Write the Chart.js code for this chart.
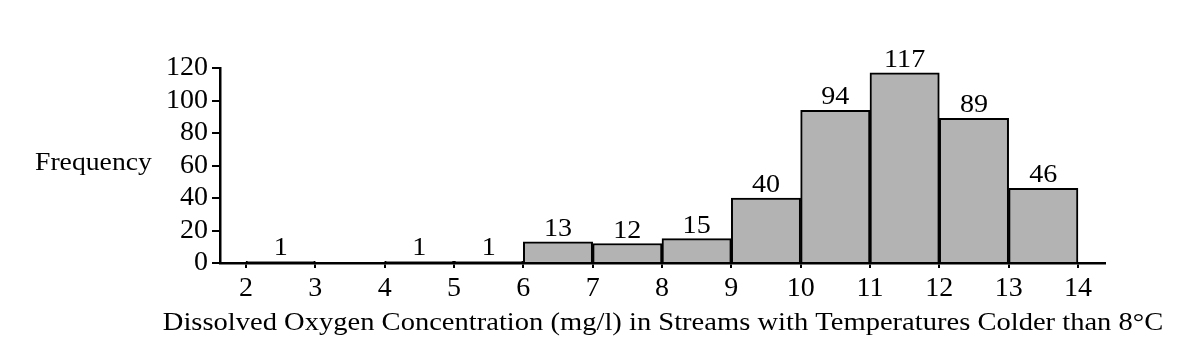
<!DOCTYPE html>
<html><head><meta charset="utf-8">
<script src="https://cdn.jsdelivr.net/npm/chart.js@4.4.0/dist/chart.umd.min.js"></script>
<style>html,body{margin:0;padding:0;background:#fff}#wrap{width:1200px;height:357px}</style>
</head><body><div id="wrap"><canvas id="c"></canvas></div>
<script>
const binStarts = [2,3,4,5,6,7,8,9,10,11,12,13];
const frequencies = [1,0,1,1,13,12,15,40,94,117,89,46];
const xTickValues = [2,3,4,5,6,7,8,9,10,11,12,13,14];
const yTickValues = [0,20,40,60,80,100,120];
const xTitle = 'Dissolved Oxygen Concentration (mg/l) in Streams with Temperatures Colder than 8°C';
const yTitle = 'Frequency';

const FONT = 'Liberation Serif';
const FS = 26;

function stretchedText(ctx, text, x, y, align, k) {
  ctx.save();
  ctx.translate(x, y);
  ctx.scale(k, 1);
  ctx.textAlign = align;
  ctx.fillText(text, 0, 0);
  ctx.restore();
}

const labelPlugin = {
  id: 'labels',
  afterDatasetsDraw(chart) {
    const ctx = chart.ctx;
    const meta = chart.getDatasetMeta(0);
    ctx.save();
    ctx.font = FS + 'px "' + FONT + '"';
    ctx.fillStyle = '#000';
    ctx.textBaseline = 'alphabetic';
    meta.data.forEach((bar, i) => {
      if (frequencies[i] > 0) stretchedText(ctx, String(frequencies[i]), bar.x, bar.y - 6, 'center', 1.08);
    });
    ctx.textBaseline = 'middle';
    stretchedText(ctx, yTitle, 35, 163, 'left', 1.065);
    stretchedText(ctx, xTitle, 663, 323, 'center', 1.098);
    ctx.restore();
  }
};

new Chart(document.getElementById('c'), {
  type: 'bar',
  data: {
    datasets: [{
      data: binStarts.map((s, i) => ({x: s + 0.5, y: frequencies[i]})),
      backgroundColor: '#b3b3b3',
      borderColor: '#000',
      borderWidth: 2,
      borderSkipped: 'start',
      barPercentage: 1,
      categoryPercentage: 1
    }]
  },
  options: {
    responsive: true,
    maintainAspectRatio: false,
    animation: false,
    events: [],
    layout: {padding: {top: 68, right: 95, left: 0, bottom: 0}},
    plugins: {legend: {display: false}, tooltip: {enabled: false}},
    scales: {
      x: {
        type: 'linear',
        offset: false,
        min: 1.625,
        max: 14.39,
        afterBuildTicks: s => { s.ticks = xTickValues.map(v => ({value: v})); },
        afterFit: s => { s.height = 94; },
        ticks: {color: '#000', font: {family: FONT, size: 28}, padding: 4, maxRotation: 0, autoSkip: false},
        grid: {offset: false, drawOnChartArea: false, color: '#000', lineWidth: 2, tickLength: 5},
        border: {color: '#000', width: 2.5}
      },
      y: {
        min: 0,
        max: 120,
        afterBuildTicks: s => { s.ticks = yTickValues.map(v => ({value: v})); },
        afterFit: s => { s.width = 220; },
        ticks: {color: '#000', font: {family: FONT, size: 28}, padding: 4, autoSkip: false},
        grid: {drawOnChartArea: false, color: '#000', lineWidth: 2, tickLength: 8},
        border: {color: '#000', width: 2.5}
      }
    }
  },
  plugins: [labelPlugin]
});
</script></body></html>
